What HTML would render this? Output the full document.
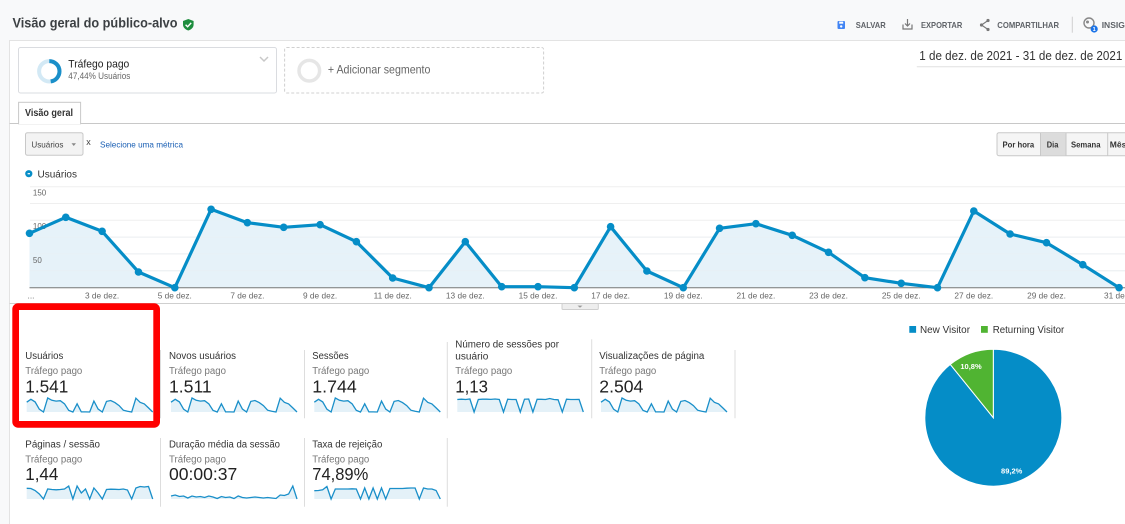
<!DOCTYPE html>
<html><head><meta charset="utf-8"><style>
html,body{margin:0;padding:0;width:1125px;height:524px;overflow:hidden;background:#fff}
svg{display:block}
text{font-family:"Liberation Sans",Arial,sans-serif}
</style></head><body>
<svg width="1125" height="524" viewBox="0 0 1125 524" xmlns="http://www.w3.org/2000/svg">
<defs>
<g id="spU"><polygon fill="#e4f1f8" points="0,14 0,4.2 4.2,1.3 8.4,3.9 12.6,11.2 16.8,14 21,0 25.2,2.3 29.4,3.1 33.6,2.7 37.8,5.8 42,12.3 46.2,14 50.4,5.8 54.6,13.9 58.8,13.9 63,14 67.2,3.1 71.4,11 75.6,14 79.8,3.4 84,2.5 88.2,4.6 92.4,7.6 96.6,12.2 100.8,13.3 105,14 109.2,0.2 113.4,4.3 117.6,5.9 121.8,9.9 126,14"/><polyline fill="none" stroke="#1a8fc9" stroke-width="1.3" points="0,4.2 4.2,1.3 8.4,3.9 12.6,11.2 16.8,14 21,0 25.2,2.3 29.4,3.1 33.6,2.7 37.8,5.8 42,12.3 46.2,14 50.4,5.8 54.6,13.9 58.8,13.9 63,14 67.2,3.1 71.4,11 75.6,14 79.8,3.4 84,2.5 88.2,4.6 92.4,7.6 96.6,12.2 100.8,13.3 105,14 109.2,0.2 113.4,4.3 117.6,5.9 121.8,9.9 126,14"/></g>
<g id="spR"><polygon fill="#e4f1f8" points="0,14 0,1.5 4.2,1.2 8.4,1.5 12.6,1 16.8,14 21,1.5 25.2,1.2 29.4,1.2 33.6,1.4 37.8,1 42,1.5 46.2,14 50.4,1.2 54.6,1.5 58.8,1.5 63,14 67.2,1.2 71.4,1 75.6,14 79.8,1.3 84,1.3 88.2,1.5 92.4,0.5 96.6,1.5 100.8,1.8 105,14 109.2,1.2 113.4,1.5 117.6,1.5 121.8,1.4 126,14"/><polyline fill="none" stroke="#1a8fc9" stroke-width="1.3" points="0,1.5 4.2,1.2 8.4,1.5 12.6,1 16.8,14 21,1.5 25.2,1.2 29.4,1.2 33.6,1.4 37.8,1 42,1.5 46.2,14 50.4,1.2 54.6,1.5 58.8,1.5 63,14 67.2,1.2 71.4,1 75.6,14 79.8,1.3 84,1.3 88.2,1.5 92.4,0.5 96.6,1.5 100.8,1.8 105,14 109.2,1.2 113.4,1.5 117.6,1.5 121.8,1.4 126,14"/></g>
<g id="spP"><polygon fill="#e4f1f8" points="0,14 0,3.3 4.2,3.5 8.4,5.5 12.6,9 16.8,14 21,4 25.2,4.5 29.4,4.8 33.6,4.5 37.8,4 42,1 46.2,14 50.4,1 54.6,8 58.8,4 63,14 67.2,3 71.4,8 75.6,14 79.8,4.5 84,4.2 88.2,4.3 92.4,4.5 96.6,4 100.8,5 105,14 109.2,3 113.4,1.5 117.6,2 121.8,1.5 126,14"/><polyline fill="none" stroke="#1a8fc9" stroke-width="1.3" points="0,3.3 4.2,3.5 8.4,5.5 12.6,9 16.8,14 21,4 25.2,4.5 29.4,4.8 33.6,4.5 37.8,4 42,1 46.2,14 50.4,1 54.6,8 58.8,4 63,14 67.2,3 71.4,8 75.6,14 79.8,4.5 84,4.2 88.2,4.3 92.4,4.5 96.6,4 100.8,5 105,14 109.2,3 113.4,1.5 117.6,2 121.8,1.5 126,14"/></g>
<g id="spD"><polygon fill="#e4f1f8" points="0,14 0,11 4.2,10 8.4,11.5 12.6,11 16.8,13 21,11 25.2,12 29.4,11.5 33.6,12.5 37.8,11 42,12 46.2,13.5 50.4,11.5 54.6,12.5 58.8,12 63,13.5 67.2,11 71.4,12.5 75.6,13 79.8,12.5 84,12 88.2,12.5 92.4,13 96.6,12.5 100.8,13 105,13.5 109.2,10 113.4,10.5 117.6,9 121.8,1 126,14"/><polyline fill="none" stroke="#1a8fc9" stroke-width="1.3" points="0,11 4.2,10 8.4,11.5 12.6,11 16.8,13 21,11 25.2,12 29.4,11.5 33.6,12.5 37.8,11 42,12 46.2,13.5 50.4,11.5 54.6,12.5 58.8,12 63,13.5 67.2,11 71.4,12.5 75.6,13 79.8,12.5 84,12 88.2,12.5 92.4,13 96.6,12.5 100.8,13 105,13.5 109.2,10 113.4,10.5 117.6,9 121.8,1 126,14"/></g>
<g id="spT"><polygon fill="#e4f1f8" points="0,14 0,5.7 4.2,5.5 8.4,4.8 12.6,1.5 16.8,14 21,4 25.2,4 29.4,4 33.6,4 37.8,3.8 42,4 46.2,14 50.4,3 54.6,14 58.8,3 63,14 67.2,3 71.4,14 75.6,3.5 79.8,3.5 84,3.5 88.2,3.5 92.4,3.2 96.6,3 100.8,3 105,14 109.2,3 113.4,4 117.6,4 121.8,5.5 126,14"/><polyline fill="none" stroke="#1a8fc9" stroke-width="1.3" points="0,5.7 4.2,5.5 8.4,4.8 12.6,1.5 16.8,14 21,4 25.2,4 29.4,4 33.6,4 37.8,3.8 42,4 46.2,14 50.4,3 54.6,14 58.8,3 63,14 67.2,3 71.4,14 75.6,3.5 79.8,3.5 84,3.5 88.2,3.5 92.4,3.2 96.6,3 100.8,3 105,14 109.2,3 113.4,4 117.6,4 121.8,5.5 126,14"/></g>
</defs>

<!-- backgrounds -->
<rect x="0" y="0" width="1125" height="524" fill="#f8f9fa"/>
<rect x="9.5" y="40.5" width="1116" height="484" fill="#ffffff" stroke="#e3e3e3" stroke-width="1"/>

<!-- header -->
<text x="12.5" y="27.5" font-size="14" font-weight="bold" fill="#3c4043" textLength="165" lengthAdjust="spacingAndGlyphs">Visão geral do público-alvo</text>
<path d="M188.3,19 L193.6,21 L193.6,24.5 C193.6,27.5 191.3,29.5 188.3,30.5 C185.3,29.5 183,27.5 183,24.5 L183,21 Z" fill="#1e8e3e"/>
<polyline points="185.6,24.8 187.6,26.7 191.2,22.9" fill="none" stroke="#fff" stroke-width="1.4"/>

<rect x="837.5" y="21" width="7.5" height="8" rx="1" fill="#4285f4"/>
<rect x="839.2" y="21.6" width="4" height="2.1" fill="#fff"/>
<circle cx="841.2" cy="26.4" r="1.2" fill="#fff"/>
<text x="855.7" y="28.2" font-size="8.5" font-weight="bold" fill="#5f6368" textLength="30" lengthAdjust="spacingAndGlyphs">SALVAR</text>
<polyline points="903,24.5 903,29 912,29 912,24.5" fill="none" stroke="#777" stroke-width="1.2"/>
<line x1="907.5" y1="19" x2="907.5" y2="26" stroke="#777" stroke-width="1.2"/>
<polyline points="905,23.5 907.5,26 910,23.5" fill="none" stroke="#777" stroke-width="1.2"/>
<text x="921" y="28.2" font-size="8.5" font-weight="bold" fill="#5f6368" textLength="41.3" lengthAdjust="spacingAndGlyphs">EXPORTAR</text>
<polyline points="988,20.5 981.5,25 988,29.5" fill="none" stroke="#777" stroke-width="1.1"/>
<circle cx="981.5" cy="25" r="1.6" fill="#777"/><circle cx="988" cy="20.5" r="1.6" fill="#777"/><circle cx="988" cy="29.5" r="1.6" fill="#777"/>
<text x="997.3" y="28.2" font-size="8.5" font-weight="bold" fill="#5f6368" textLength="61.7" lengthAdjust="spacingAndGlyphs">COMPARTILHAR</text>
<line x1="1072.3" y1="16.7" x2="1072.3" y2="32.7" stroke="#d0d0d0" stroke-width="1"/>
<circle cx="1089" cy="23" r="5" fill="none" stroke="#888" stroke-width="1.4"/>
<circle cx="1087.5" cy="22" r="1.5" fill="#888"/>
<circle cx="1094.2" cy="29" r="3.6" fill="#1a73e8"/>
<text x="1094.2" y="31" font-size="5.5" font-weight="bold" fill="#fff" text-anchor="middle">1</text>
<text x="1101.7" y="28.2" font-size="8.5" font-weight="bold" fill="#5f6368">INSIGHTS</text>

<!-- segments -->
<rect x="18.5" y="47.5" width="258" height="45.5" rx="2" fill="#fff" stroke="#dadce0"/>
<circle cx="49.3" cy="71.3" r="10.2" fill="none" stroke="#d3e9f5" stroke-width="4"/>
<circle cx="49.3" cy="71.3" r="10.2" fill="none" stroke="#1a8fc9" stroke-width="4" stroke-dasharray="30.4 64.1" transform="rotate(-90 49.3 71.3)"/>
<text x="68.3" y="67.6" font-size="11" fill="#222" textLength="61" lengthAdjust="spacingAndGlyphs">Tráfego pago</text>
<text x="68.3" y="79" font-size="9" fill="#666" textLength="62" lengthAdjust="spacingAndGlyphs">47,44% Usuários</text>
<polyline points="260,57 264,61 268,57" fill="none" stroke="#c8c8c8" stroke-width="1.5"/>

<rect x="284.6" y="47.5" width="259" height="45.5" rx="2" fill="#fff" stroke="#d0d0d0" stroke-dasharray="3 2"/>
<circle cx="309.3" cy="70.7" r="10.3" fill="none" stroke="#e6e6e6" stroke-width="3.5"/>
<text x="327.9" y="73.3" font-size="12" fill="#666" textLength="102.5" lengthAdjust="spacingAndGlyphs">+ Adicionar segmento</text>

<text x="919.3" y="60" font-size="12.5" fill="#333" textLength="203" lengthAdjust="spacingAndGlyphs">1 de dez. de 2021 - 31 de dez. de 2021</text>
<line x1="916.8" y1="66.7" x2="1125" y2="66.7" stroke="#e0e0e0"/>

<!-- tab -->
<line x1="9.5" y1="123.5" x2="1125" y2="123.5" stroke="#c8c8c8"/>
<rect x="18.6" y="102.3" width="62" height="21.5" fill="#fff" stroke="#c8c8c8"/>
<line x1="19.1" y1="123.5" x2="80.1" y2="123.5" stroke="#fff" stroke-width="1.2"/>
<text x="25" y="116" font-size="10" font-weight="bold" fill="#333" textLength="48" lengthAdjust="spacingAndGlyphs">Visão geral</text>

<!-- metric selector -->
<rect x="25.5" y="132.7" width="57.5" height="22.6" rx="2" fill="#f3f3f3" stroke="#c8c8c8"/>
<text x="31.4" y="147.3" font-size="8.5" fill="#444" textLength="32" lengthAdjust="spacingAndGlyphs">Usuários</text>
<polygon points="71.5,143.3 76,143.3 73.75,146" fill="#888"/>
<text x="86.3" y="145" font-size="9" fill="#444">x</text>
<text x="100" y="147.5" font-size="8.5" fill="#1a5fb4" textLength="83" lengthAdjust="spacingAndGlyphs">Selecione uma métrica</text>

<!-- period buttons -->
<rect x="997" y="132.7" width="140" height="23" rx="2" fill="#f5f5f5" stroke="#c8c8c8"/>
<rect x="1041" y="133.2" width="25" height="22" fill="#dcdcdc"/>
<line x1="1040.5" y1="132.7" x2="1040.5" y2="155.7" stroke="#c8c8c8"/>
<line x1="1066" y1="132.7" x2="1066" y2="155.7" stroke="#c8c8c8"/>
<line x1="1107.7" y1="132.7" x2="1107.7" y2="155.7" stroke="#c8c8c8"/>
<text x="1002.5" y="147.5" font-size="8.5" font-weight="bold" fill="#333" textLength="31.7" lengthAdjust="spacingAndGlyphs">Por hora</text>
<text x="1046.8" y="147.5" font-size="8.5" font-weight="bold" fill="#333" textLength="11.6" lengthAdjust="spacingAndGlyphs">Dia</text>
<text x="1071" y="147.5" font-size="8.5" font-weight="bold" fill="#333" textLength="29.5" lengthAdjust="spacingAndGlyphs">Semana</text>
<text x="1109.8" y="147.5" font-size="8.5" font-weight="bold" fill="#333">Mês</text>

<!-- chart legend -->
<circle cx="28.8" cy="173.7" r="3.6" fill="#058dc7"/>
<rect x="27.6" y="173.1" width="2.4" height="1.2" fill="#fff"/>
<text x="37.5" y="177.4" font-size="10" fill="#333" textLength="39.5" lengthAdjust="spacingAndGlyphs">Usuários</text>

<!-- grid -->
<g stroke="#efefef" stroke-width="1">
<line x1="30" y1="186.7" x2="1125" y2="186.7"/>
<line x1="30" y1="203.5" x2="1125" y2="203.5"/>
<line x1="30" y1="220.3" x2="1125" y2="220.3"/>
<line x1="30" y1="237.1" x2="1125" y2="237.1"/>
<line x1="30" y1="253.9" x2="1125" y2="253.9"/>
<line x1="30" y1="270.7" x2="1125" y2="270.7"/>
</g>

<!-- area + line -->
<polygon fill="#e3f1f8" fill-opacity="0.9" points="29.5,287.7 29.5,233.3 65.8,217.3 102.1,231.3 138.5,272 174.8,287.7 211.1,209.3 247.4,222.7 283.7,227.3 320.1,224.7 356.4,241.7 392.7,278 429,287.7 465.3,241.7 501.7,286.7 538,286.7 574.3,287.7 610.6,226.7 646.9,271 683.3,287.7 719.6,228.3 755.9,223.7 792.2,235.3 828.5,252.3 864.9,277.7 901.2,283.3 937.5,287.7 973.8,211 1010.1,234 1046.5,242.7 1082.8,264.7 1119.1,287.7"/>
<g stroke="#e9f0f4" stroke-width="1">
<line x1="30" y1="237.1" x2="1125" y2="237.1" stroke-opacity="0.6"/>
<line x1="30" y1="253.9" x2="1125" y2="253.9" stroke-opacity="0.6"/>
<line x1="30" y1="270.7" x2="1125" y2="270.7" stroke-opacity="0.6"/>
</g>
<g font-size="8" fill="#666">
<text x="32.9" y="195.5">150</text>
<text x="32.9" y="229">100</text>
<text x="32.9" y="263">50</text>
</g>
<line x1="29.5" y1="287.7" x2="1125" y2="287.7" stroke="#777" stroke-width="1"/>
<polyline fill="none" stroke="#058dc7" stroke-width="3.2" stroke-linejoin="round" points="29.5,233.3 65.8,217.3 102.1,231.3 138.5,272 174.8,287.7 211.1,209.3 247.4,222.7 283.7,227.3 320.1,224.7 356.4,241.7 392.7,278 429,287.7 465.3,241.7 501.7,286.7 538,286.7 574.3,287.7 610.6,226.7 646.9,271 683.3,287.7 719.6,228.3 755.9,223.7 792.2,235.3 828.5,252.3 864.9,277.7 901.2,283.3 937.5,287.7 973.8,211 1010.1,234 1046.5,242.7 1082.8,264.7 1119.1,287.7"/>
<g fill="#058dc7">
<circle cx="29.5" cy="233.3" r="3.8"/><circle cx="65.8" cy="217.3" r="3.8"/><circle cx="102.1" cy="231.3" r="3.8"/><circle cx="138.5" cy="272" r="3.8"/><circle cx="174.8" cy="287.7" r="3.8"/><circle cx="211.1" cy="209.3" r="3.8"/><circle cx="247.4" cy="222.7" r="3.8"/><circle cx="283.7" cy="227.3" r="3.8"/><circle cx="320.1" cy="224.7" r="3.8"/><circle cx="356.4" cy="241.7" r="3.8"/><circle cx="392.7" cy="278" r="3.8"/><circle cx="429" cy="287.7" r="3.8"/><circle cx="465.3" cy="241.7" r="3.8"/><circle cx="501.7" cy="286.7" r="3.8"/><circle cx="538" cy="286.7" r="3.8"/><circle cx="574.3" cy="287.7" r="3.8"/><circle cx="610.6" cy="226.7" r="3.8"/><circle cx="646.9" cy="271" r="3.8"/><circle cx="683.3" cy="287.7" r="3.8"/><circle cx="719.6" cy="228.3" r="3.8"/><circle cx="755.9" cy="223.7" r="3.8"/><circle cx="792.2" cy="235.3" r="3.8"/><circle cx="828.5" cy="252.3" r="3.8"/><circle cx="864.9" cy="277.7" r="3.8"/><circle cx="901.2" cy="283.3" r="3.8"/><circle cx="937.5" cy="287.7" r="3.8"/><circle cx="973.8" cy="211" r="3.8"/><circle cx="1010.1" cy="234" r="3.8"/><circle cx="1046.5" cy="242.7" r="3.8"/><circle cx="1082.8" cy="264.7" r="3.8"/><circle cx="1119.1" cy="287.7" r="3.8"/>
</g>

<!-- x labels -->
<g font-size="8.3" fill="#666" text-anchor="middle">
<text x="31" y="298.5">...</text>
<text x="102.1" y="298.5">3 de dez.</text>
<text x="174.8" y="298.5">5 de dez.</text>
<text x="247.4" y="298.5">7 de dez.</text>
<text x="320.1" y="298.5">9 de dez.</text>
<text x="392.7" y="298.5">11 de dez.</text>
<text x="465.3" y="298.5">13 de dez.</text>
<text x="538" y="298.5">15 de dez.</text>
<text x="610.6" y="298.5">17 de dez.</text>
<text x="683.3" y="298.5">19 de dez.</text>
<text x="755.9" y="298.5">21 de dez.</text>
<text x="828.5" y="298.5">23 de dez.</text>
<text x="901.2" y="298.5">25 de dez.</text>
<text x="973.8" y="298.5">27 de dez.</text>
<text x="1046.5" y="298.5">29 de dez.</text>
<text x="1104" y="298.5" text-anchor="start">31 de dez.</text>
</g>

<!-- separator + handle -->
<line x1="9.5" y1="303.5" x2="1125" y2="303.5" stroke="#cfcfcf"/>
<rect x="562" y="303.5" width="36.3" height="6" rx="1" fill="#eeeeee" stroke="#cfcfcf"/>
<polygon points="577.5,305.6 582.5,305.6 580,307.8" fill="#999"/>

<!-- metric tiles row 1 -->
<g font-size="10">
<text x="25.3" y="359" fill="#333" textLength="38" lengthAdjust="spacingAndGlyphs">Usuários</text>
<text x="25.3" y="374" fill="#777" textLength="57" lengthAdjust="spacingAndGlyphs">Tráfego pago</text>
<text x="169" y="359" fill="#333" textLength="67" lengthAdjust="spacingAndGlyphs">Novos usuários</text>
<text x="169" y="374" fill="#777" textLength="57" lengthAdjust="spacingAndGlyphs">Tráfego pago</text>
<text x="312.3" y="359" fill="#333" textLength="36.3" lengthAdjust="spacingAndGlyphs">Sessões</text>
<text x="312.3" y="374" fill="#777" textLength="57" lengthAdjust="spacingAndGlyphs">Tráfego pago</text>
<text x="455.3" y="347.6" fill="#333" textLength="103.7" lengthAdjust="spacingAndGlyphs">Número de sessões por</text>
<text x="455.3" y="359.3" fill="#333" textLength="33" lengthAdjust="spacingAndGlyphs">usuário</text>
<text x="455.3" y="374" fill="#777" textLength="57" lengthAdjust="spacingAndGlyphs">Tráfego pago</text>
<text x="599.3" y="359" fill="#333" textLength="105" lengthAdjust="spacingAndGlyphs">Visualizações de página</text>
<text x="599.3" y="374" fill="#777" textLength="57" lengthAdjust="spacingAndGlyphs">Tráfego pago</text>
</g>
<g font-size="17.5" fill="#222">
<text x="25.3" y="392.6" textLength="43" lengthAdjust="spacingAndGlyphs">1.541</text>
<text x="169" y="392.6" textLength="42.7" lengthAdjust="spacingAndGlyphs">1.511</text>
<text x="312.3" y="392.6" textLength="44.4" lengthAdjust="spacingAndGlyphs">1.744</text>
<text x="455.3" y="392.6" textLength="32.7" lengthAdjust="spacingAndGlyphs">1,13</text>
<text x="599.3" y="392.6" textLength="44" lengthAdjust="spacingAndGlyphs">2.504</text>
</g>
<use href="#spU" transform="translate(26.7,398)"/>
<use href="#spU" transform="translate(171,398)"/>
<use href="#spU" transform="translate(314.3,398)"/>
<use href="#spR" transform="translate(457.3,398)"/>
<use href="#spU" transform="translate(601,398)"/>

<g stroke="#dddddd" stroke-width="1">
<line x1="160.5" y1="350" x2="160.5" y2="418.3"/>
<line x1="304.5" y1="350" x2="304.5" y2="418.3"/>
<line x1="447.3" y1="342" x2="447.3" y2="418.3"/>
<line x1="591.7" y1="339.3" x2="591.7" y2="418.3"/>
<line x1="735" y1="350" x2="735" y2="418.3"/>
<line x1="160.5" y1="438" x2="160.5" y2="506.7"/>
<line x1="304.5" y1="438" x2="304.5" y2="506.7"/>
<line x1="447.3" y1="438" x2="447.3" y2="506.7"/>
</g>

<!-- metric tiles row 2 -->
<g font-size="10">
<text x="25.3" y="447.6" fill="#333" textLength="74.7" lengthAdjust="spacingAndGlyphs">Páginas / sessão</text>
<text x="25.3" y="462.3" fill="#777" textLength="57" lengthAdjust="spacingAndGlyphs">Tráfego pago</text>
<text x="169" y="447.6" fill="#333" textLength="111" lengthAdjust="spacingAndGlyphs">Duração média da sessão</text>
<text x="169" y="462.3" fill="#777" textLength="57" lengthAdjust="spacingAndGlyphs">Tráfego pago</text>
<text x="312.3" y="447.6" fill="#333" textLength="70" lengthAdjust="spacingAndGlyphs">Taxa de rejeição</text>
<text x="312.3" y="462.3" fill="#777" textLength="57" lengthAdjust="spacingAndGlyphs">Tráfego pago</text>
</g>
<g font-size="17.5" fill="#222">
<text x="25.3" y="480" textLength="33" lengthAdjust="spacingAndGlyphs">1,44</text>
<text x="169" y="480" textLength="68.3" lengthAdjust="spacingAndGlyphs">00:00:37</text>
<text x="312.3" y="480" textLength="56" lengthAdjust="spacingAndGlyphs">74,89%</text>
</g>
<use href="#spP" transform="translate(26.7,485)"/>
<use href="#spD" transform="translate(171,485)"/>
<use href="#spT" transform="translate(314.3,485)"/>

<!-- red highlight -->
<rect x="15.65" y="306.65" width="141" height="117.7" rx="2.5" fill="none" stroke="#ff0000" stroke-width="6.7"/>

<!-- pie legend -->
<rect x="909.3" y="326" width="6.8" height="6.8" fill="#058dc7"/>
<text x="920" y="333" font-size="10" fill="#333" textLength="50" lengthAdjust="spacingAndGlyphs">New Visitor</text>
<rect x="981" y="326" width="6.8" height="6.8" fill="#50b432"/>
<text x="992.7" y="333" font-size="10" fill="#333" textLength="71.6" lengthAdjust="spacingAndGlyphs">Returning Visitor</text>

<!-- pie -->
<path d="M993.3,417.7 L993.3,349.2 A68.5,68.5 0 1 1 950.3,364.4 Z" fill="#058dc7" stroke="#fff" stroke-width="1"/>
<path d="M993.3,417.7 L993.3,349.2 A68.5,68.5 0 0 0 950.3,364.4 Z" fill="#50b432" stroke="#fff" stroke-width="1"/>
<text x="971" y="369" font-size="7.5" font-weight="bold" fill="#fff" text-anchor="middle">10,8%</text>
<text x="1011.7" y="473.5" font-size="7.5" font-weight="bold" fill="#fff" text-anchor="middle">89,2%</text>
</svg>
</body></html>
